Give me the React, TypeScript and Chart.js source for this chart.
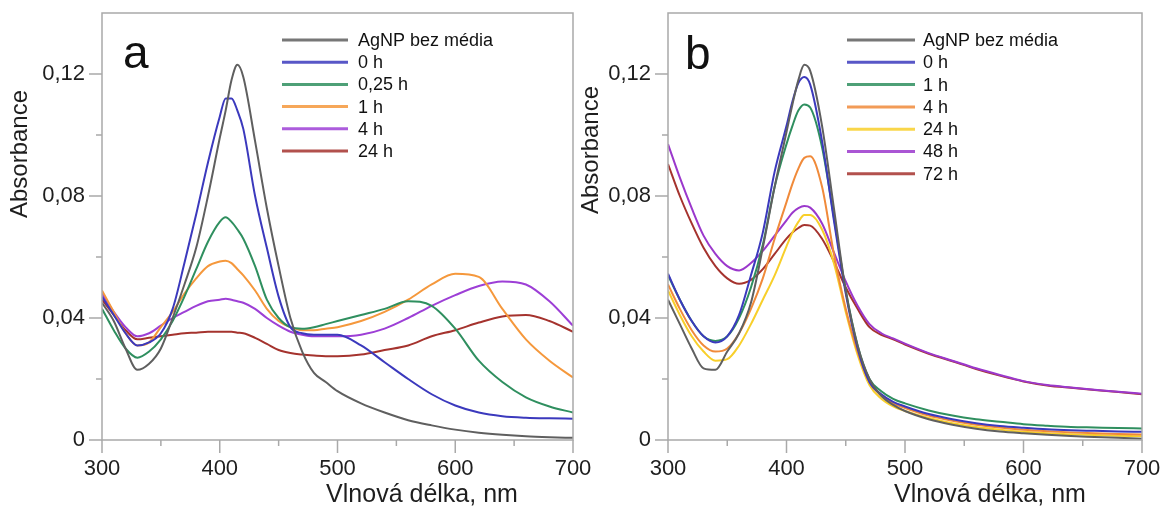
import React, { useEffect, useRef } from "react";
import { Chart, registerables } from "chart.js";

Chart.register(...registerables);

// ---------------- data ----------------
const WAVELENGTHS = [300, 310, 320, 330, 340, 350, 360, 370, 380, 390, 400, 405, 410, 415, 420, 430, 440, 450, 460, 470, 480, 490, 500, 520, 540, 560, 580, 600, 620, 640, 660, 680, 700];

const X_TICKS = [300, 400, 500, 600, 700];
const X_TICK_LABELS = ["300", "400", "500", "600", "700"];
const Y_TICKS = [0, 0.04, 0.08, 0.12];
const Y_TICK_LABELS = ["0", "0,04", "0,08", "0,12"];

const X_TITLE = "Vlnová délka, nm";
const Y_TITLE = "Absorbance";

// Panel a
const A_LABELS = ["AgNP bez média", "0 h", "0,25 h", "1 h", "4 h", "24 h"];
const A_COLORS = ["#5f5f5f", "#3b39bd", "#2f8f5f", "#f5983c", "#9d3fd6", "#a5332e"];
const A_AGNP = [0.045, 0.039, 0.030, 0.023, 0.025, 0.030, 0.040, 0.051, 0.063, 0.080, 0.099, 0.108, 0.118, 0.123, 0.119, 0.098, 0.076, 0.057, 0.040, 0.029, 0.022, 0.019, 0.016, 0.012, 0.009, 0.0065, 0.0048, 0.0034, 0.0024, 0.0017, 0.0012, 0.0009, 0.0007];
const A_0H = [0.047, 0.041, 0.035, 0.031, 0.032, 0.035, 0.043, 0.058, 0.074, 0.091, 0.106, 0.112, 0.112, 0.108, 0.102, 0.080, 0.063, 0.047, 0.037, 0.035, 0.0345, 0.0345, 0.0345, 0.031, 0.0255, 0.020, 0.015, 0.0113, 0.009, 0.0078, 0.0073, 0.0071, 0.007];
const A_025H = [0.043, 0.036, 0.030, 0.027, 0.029, 0.033, 0.039, 0.047, 0.056, 0.065, 0.0715, 0.073, 0.0715, 0.069, 0.066, 0.057, 0.046, 0.040, 0.037, 0.0365, 0.037, 0.038, 0.039, 0.041, 0.043, 0.0455, 0.044, 0.0365, 0.026, 0.019, 0.014, 0.011, 0.009];
const A_1H = [0.049, 0.042, 0.035, 0.031, 0.032, 0.037, 0.042, 0.048, 0.053, 0.057, 0.0585, 0.0588, 0.058, 0.056, 0.054, 0.049, 0.043, 0.039, 0.037, 0.036, 0.036, 0.0365, 0.037, 0.039, 0.042, 0.046, 0.051, 0.0545, 0.0535, 0.043, 0.033, 0.026, 0.0205];
const A_4H = [0.048, 0.042, 0.037, 0.034, 0.035, 0.0375, 0.040, 0.042, 0.044, 0.0455, 0.046, 0.0463, 0.046, 0.0455, 0.045, 0.043, 0.040, 0.0375, 0.0355, 0.0345, 0.034, 0.034, 0.034, 0.0345, 0.0365, 0.040, 0.044, 0.0475, 0.0505, 0.052, 0.051, 0.0455, 0.0375];
const A_24H = [0.046, 0.041, 0.036, 0.033, 0.0335, 0.034, 0.0345, 0.035, 0.0352, 0.0355, 0.0355, 0.0355, 0.0355, 0.0352, 0.035, 0.0335, 0.0315, 0.0295, 0.0285, 0.028, 0.0277, 0.0275, 0.0275, 0.028, 0.0295, 0.031, 0.034, 0.036, 0.0385, 0.0405, 0.041, 0.039, 0.0355];

// Panel b
const B_LABELS = ["AgNP bez média", "0 h", "1 h", "4 h", "24 h", "48 h", "72 h"];
const B_COLORS = ["#5f5f5f", "#3b39bd", "#2f8f5f", "#f08a3a", "#f8cf2a", "#9b38cc", "#a5332e"];
const B_AGNP = [0.046, 0.038, 0.030, 0.0235, 0.023, 0.029, 0.035, 0.045, 0.063, 0.083, 0.101, 0.110, 0.118, 0.123, 0.121, 0.103, 0.076, 0.049, 0.031, 0.020, 0.0145, 0.0115, 0.0095, 0.0068, 0.005, 0.0037, 0.0028, 0.0022, 0.0017, 0.0013, 0.001, 0.0007, 0.0004];
const B_0H = [0.0545, 0.046, 0.039, 0.034, 0.032, 0.034, 0.041, 0.054, 0.068, 0.088, 0.103, 0.111, 0.117, 0.119, 0.1165, 0.098, 0.072, 0.048, 0.030, 0.019, 0.015, 0.0125, 0.011, 0.0085, 0.0068, 0.0055, 0.0046, 0.004, 0.0035, 0.0032, 0.003, 0.0028, 0.0027];
const B_1H = [0.054, 0.046, 0.039, 0.034, 0.0325, 0.034, 0.040, 0.050, 0.064, 0.083, 0.097, 0.103, 0.108, 0.110, 0.109, 0.096, 0.073, 0.049, 0.031, 0.020, 0.016, 0.0135, 0.012, 0.0097, 0.008, 0.0068, 0.006, 0.0052, 0.0047, 0.0043, 0.0041, 0.0039, 0.0038];
const B_4H = [0.051, 0.043, 0.036, 0.031, 0.029, 0.030, 0.035, 0.043, 0.053, 0.066, 0.078, 0.084, 0.089, 0.0925, 0.093, 0.083, 0.061, 0.043, 0.029, 0.019, 0.0145, 0.012, 0.0105, 0.008, 0.0063, 0.005, 0.0041, 0.0034, 0.0029, 0.0025, 0.0022, 0.002, 0.0018];
const B_24H = [0.049, 0.041, 0.034, 0.029, 0.026, 0.0265, 0.031, 0.038, 0.046, 0.054, 0.0635, 0.068, 0.0715, 0.0738, 0.0738, 0.069, 0.058, 0.042, 0.028, 0.018, 0.0135, 0.011, 0.0095, 0.0072, 0.0055, 0.0043, 0.0034, 0.0027, 0.0022, 0.0019, 0.0016, 0.0014, 0.0012];
const B_48H = [0.097, 0.086, 0.076, 0.067, 0.061, 0.057, 0.0556, 0.058, 0.062, 0.067, 0.072, 0.0745, 0.076, 0.0767, 0.0762, 0.071, 0.0615, 0.052, 0.044, 0.038, 0.035, 0.0333, 0.0316, 0.0285, 0.026, 0.0235, 0.0213, 0.0193, 0.018, 0.0172, 0.0165, 0.0158, 0.0152];
const B_72H = [0.0905, 0.080, 0.071, 0.063, 0.057, 0.053, 0.0512, 0.0525, 0.056, 0.061, 0.066, 0.068, 0.0695, 0.0705, 0.0703, 0.066, 0.0585, 0.050, 0.043, 0.037, 0.0345, 0.033, 0.0313, 0.0283, 0.0258, 0.0233, 0.0211, 0.0192, 0.0179, 0.0171, 0.0164, 0.0157, 0.015];

// ---------------- layout / style ----------------
const W = 1175;
const H = 513;
const FONT = "'Liberation Sans', Arial, Helvetica, sans-serif";
const FRAME = "#a9a9a9";
const TEXT = "#1e1e1e";

type PanelLayout = {
  padLeft: number;
  padRight: number;
  yAxisWidth: number;
  letter: string;
  letterX: number;
  letterY: number;
  legendLineX0: number;
  legendLineX1: number;
  legendTextX: number;
  legendY0: number;
  legendStep: number;
  yTitleX: number;
  yTitleY: number;
  xTitleX: number;
  xTitleY: number;
};

const LAYOUT_A: PanelLayout = {
  padLeft: 0,
  padRight: W - 573,
  yAxisWidth: 102,
  letter: "a",
  letterX: 123,
  letterY: 68,
  legendLineX0: 282,
  legendLineX1: 348,
  legendTextX: 358,
  legendY0: 40,
  legendStep: 22.2,
  yTitleX: 20,
  yTitleY: 154,
  xTitleX: 422,
  xTitleY: 495,
};

const LAYOUT_B: PanelLayout = {
  padLeft: 580,
  padRight: W - 1142,
  yAxisWidth: 88,
  letter: "b",
  letterX: 685,
  letterY: 69,
  legendLineX0: 847,
  legendLineX1: 915,
  legendTextX: 923,
  legendY0: 40,
  legendStep: 22.3,
  yTitleX: 591,
  yTitleY: 150,
  xTitleX: 990,
  xTitleY: 495,
};

function makeDecor(layout: PanelLayout, labels: string[], colors: string[]) {
  return {
    id: "decor" + layout.letter,
    afterDraw(chart: any) {
      const { ctx, chartArea: ca, scales } = chart;
      const xs = scales.x;
      const ys = scales.y;
      ctx.save();
      // frame
      ctx.strokeStyle = FRAME;
      ctx.lineWidth = 1.5;
      ctx.strokeRect(ca.left, ca.top, ca.right - ca.left, ca.bottom - ca.top);
      // y ticks (major every 0.04, minor every 0.02)
      for (let i = 0; i <= 6; i++) {
        const v = i * 0.02;
        const y = ys.getPixelForValue(v);
        const len = i % 2 === 0 ? 13 : 6;
        ctx.beginPath();
        ctx.moveTo(ca.left - len, y);
        ctx.lineTo(ca.left, y);
        ctx.stroke();
      }
      // x ticks (major every 100, minor every 50)
      for (let i = 0; i <= 8; i++) {
        const v = 300 + i * 50;
        const x = xs.getPixelForValue(v);
        const len = i % 2 === 0 ? 13 : 6;
        ctx.beginPath();
        ctx.moveTo(x, ca.bottom);
        ctx.lineTo(x, ca.bottom + len);
        ctx.stroke();
      }
      // panel letter
      ctx.fillStyle = "#111";
      ctx.font = `46px ${FONT}`;
      ctx.textAlign = "left";
      ctx.textBaseline = "alphabetic";
      ctx.fillText(layout.letter, layout.letterX, layout.letterY);
      // legend
      ctx.font = `18px ${FONT}`;
      ctx.textBaseline = "middle";
      labels.forEach((lab, i) => {
        const y = layout.legendY0 + i * layout.legendStep;
        ctx.strokeStyle = colors[i];
        ctx.globalAlpha = 0.85;
        ctx.lineWidth = 3;
        ctx.beginPath();
        ctx.moveTo(layout.legendLineX0, y);
        ctx.lineTo(layout.legendLineX1, y);
        ctx.stroke();
        ctx.globalAlpha = 1;
        ctx.fillStyle = "#111";
        ctx.fillText(lab, layout.legendTextX, y + 1);
      });
      // axis titles
      ctx.fillStyle = TEXT;
      ctx.textAlign = "center";
      ctx.font = `25px ${FONT}`;
      ctx.fillText(X_TITLE, layout.xTitleX, layout.xTitleY);
      ctx.translate(layout.yTitleX, layout.yTitleY);
      ctx.rotate(-Math.PI / 2);
      ctx.font = `24px ${FONT}`;
      ctx.fillText(Y_TITLE, 0, 0);
      ctx.restore();
    },
  };
}

function makeConfig(layout: PanelLayout, labels: string[], colors: string[], series: number[][]): any {
  return {
    type: "line",
    data: {
      datasets: series.map((vals, i) => ({
        label: labels[i],
        data: vals.map((v, j) => ({ x: WAVELENGTHS[j], y: v })),
        borderColor: colors[i],
        borderWidth: 2,
        pointRadius: 0,
        fill: false,
        tension: 0.4,
        cubicInterpolationMode: "monotone",
      })),
    },
    options: {
      animation: false,
      responsive: false,
      devicePixelRatio: 1,
      layout: { padding: { left: layout.padLeft, right: layout.padRight, top: 13, bottom: 0 } },
      plugins: { legend: { display: false }, tooltip: { enabled: false }, title: { display: false } },
      scales: {
        x: {
          type: "linear",
          min: 300,
          max: 700,
          grid: { display: false, drawTicks: false },
          border: { display: false },
          afterBuildTicks: (s: any) => {
            s.ticks = X_TICKS.map((v) => ({ value: v }));
          },
          afterFit: (s: any) => {
            s.height = 73;
            s.paddingLeft = 0;
            s.paddingRight = 0;
          },
          ticks: {
            autoSkip: false,
            maxRotation: 0,
            minRotation: 0,
            padding: 16,
            color: TEXT,
            font: { family: FONT, size: 22 },
            callback: (v: number) => {
              const k = X_TICKS.indexOf(v);
              return k >= 0 ? X_TICK_LABELS[k] : "";
            },
          },
        },
        y: {
          type: "linear",
          min: 0,
          max: 0.14,
          grid: { display: false, drawTicks: false },
          border: { display: false },
          afterBuildTicks: (s: any) => {
            s.ticks = Y_TICKS.map((v) => ({ value: v }));
          },
          afterFit: (s: any) => {
            s.width = layout.yAxisWidth;
            s.paddingTop = 0;
            s.paddingBottom = 0;
          },
          ticks: {
            autoSkip: false,
            padding: 17,
            color: TEXT,
            font: { family: FONT, size: 22 },
            callback: (v: number) => {
              const k = Y_TICKS.findIndex((t) => Math.abs(t - v) < 1e-9);
              return k >= 0 ? Y_TICK_LABELS[k] : "";
            },
          },
        },
      },
    },
    plugins: [makeDecor(layout, labels, colors)],
  };
}

function Panel({ layout, labels, colors, series }: { layout: PanelLayout; labels: string[]; colors: string[]; series: number[][] }) {
  const ref = useRef<HTMLCanvasElement | null>(null);
  useEffect(() => {
    if (!ref.current) return;
    const chart = new Chart(ref.current, makeConfig(layout, labels, colors, series));
    return () => chart.destroy();
  }, []);
  return (
    <canvas
      ref={ref}
      width={W}
      height={H}
      style={{ position: "absolute", left: 0, top: 0, width: W, height: H }}
    />
  );
}

export default function App() {
  return (
    <div style={{ position: "absolute", left: 0, top: 0, width: W, height: H, background: "#ffffff", overflow: "hidden" }}>
      <Panel layout={LAYOUT_A} labels={A_LABELS} colors={A_COLORS} series={[A_AGNP, A_0H, A_025H, A_1H, A_4H, A_24H]} />
      <Panel layout={LAYOUT_B} labels={B_LABELS} colors={B_COLORS} series={[B_AGNP, B_0H, B_1H, B_4H, B_24H, B_48H, B_72H]} />
    </div>
  );
}
